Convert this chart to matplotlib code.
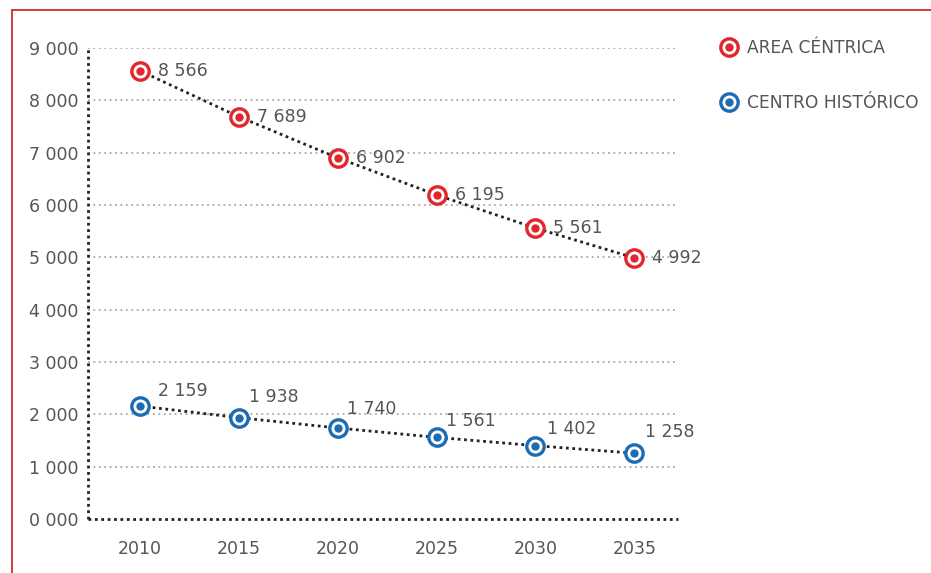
import matplotlib
matplotlib.use("Agg")
import matplotlib.pyplot as plt
from matplotlib.lines import Line2D
from matplotlib.legend_handler import HandlerTuple

# data
years = [2010, 2015, 2020, 2025, 2030, 2035]
area_centrica = [8566, 7689, 6902, 6195, 5561, 4992]
centro_historico = [2159, 1938, 1740, 1561, 1402, 1258]
yticks = [0, 1000, 2000, 3000, 4000, 5000, 6000, 7000, 8000, 9000]
ytick_labels = ["0 000", "1 000", "2 000", "3 000", "4 000",
                "5 000", "6 000", "7 000", "8 000", "9 000"]
series_names = ["AREA CÉNTRICA", "CENTRO HISTÓRICO"]

RED = "#e2262c"
BLUE = "#1c6cb4"
TXT = "#555555"
FS = 12.5
DOT = (0, (1, 1.3))


def fmt(v):
    return f"{v:,}".replace(",", " ")


fig = plt.figure(figsize=(9.31, 5.73), dpi=100)
ax = fig.add_axes([0.0945, 0.0942, 0.728 - 0.0945, 0.916 - 0.0942])

ax.set_xlim(2007.37, 2037.2)
ax.set_ylim(0, 9000)

# gray dotted gridlines
for t in yticks[1:]:
    ax.axhline(t, color="#a8a8a8", lw=1.3, ls=(0, (1, 2)), zorder=1)

# black dotted axes lines
ax.axhline(0, color="#222222", lw=2, ls=DOT, zorder=2, clip_on=False)
ax.axvline(2007.37, color="#222222", lw=2, ls=DOT, zorder=2, clip_on=False)


def draw_series(vals, color, offsets):
    ax.plot(years, vals, color="#222222", lw=2, ls=DOT, zorder=2)
    ax.plot(years, vals, ls="none", marker="o", ms=12.5, mfc="white",
            mec=color, mew=2.4, zorder=3)
    ax.plot(years, vals, ls="none", marker="o", ms=6, mfc=color,
            mec=color, mew=0, zorder=4)
    for x, v, off in zip(years, vals, offsets):
        ax.annotate(fmt(v), (x, v), xytext=off, textcoords="offset points",
                    ha="left", va="center", fontsize=FS, color=TXT, zorder=5)


draw_series(area_centrica, RED, [(13, 0)] * 6)
draw_series(centro_historico, BLUE,
            [(13, 11), (7, 15), (7, 14), (7, 12), (8, 12), (8, 15)])

for s in ax.spines.values():
    s.set_visible(False)

ax.set_yticks(yticks)
ax.set_yticklabels(ytick_labels)
ax.set_xticks(years)
ax.set_xticklabels([str(y) for y in years])
ax.tick_params(axis="y", length=0, pad=7, labelsize=FS, labelcolor=TXT)
ax.tick_params(axis="x", length=0, pad=15, labelsize=FS, labelcolor=TXT)

# legend
handles = []
for color in [RED, BLUE]:
    ring = Line2D([], [], ls="none", marker="o", ms=12.5, mfc="white",
                  mec=color, mew=2.4)
    dot = Line2D([], [], ls="none", marker="o", ms=6, mfc=color, mew=0)
    handles.append((ring, dot))
leg = fig.legend(handles, series_names, loc="upper left",
                 bbox_to_anchor=(0.757, 0.958), frameon=False,
                 handler_map={tuple: HandlerTuple(ndivide=1, pad=0)},
                 fontsize=12.3, labelspacing=2.15, handlelength=1.0,
                 handletextpad=0.55, labelcolor=TXT)

# red frame lines
fig.add_artist(Line2D([12 / 931, 1], [1 - 10 / 573, 1 - 10 / 573],
                      transform=fig.transFigure, color="#d22b2b", lw=1.3))
fig.add_artist(Line2D([12 / 931, 12 / 931], [0, 1 - 10 / 573],
                      transform=fig.transFigure, color="#d22b2b", lw=1.3))

fig.savefig("out.png", dpi=100)
